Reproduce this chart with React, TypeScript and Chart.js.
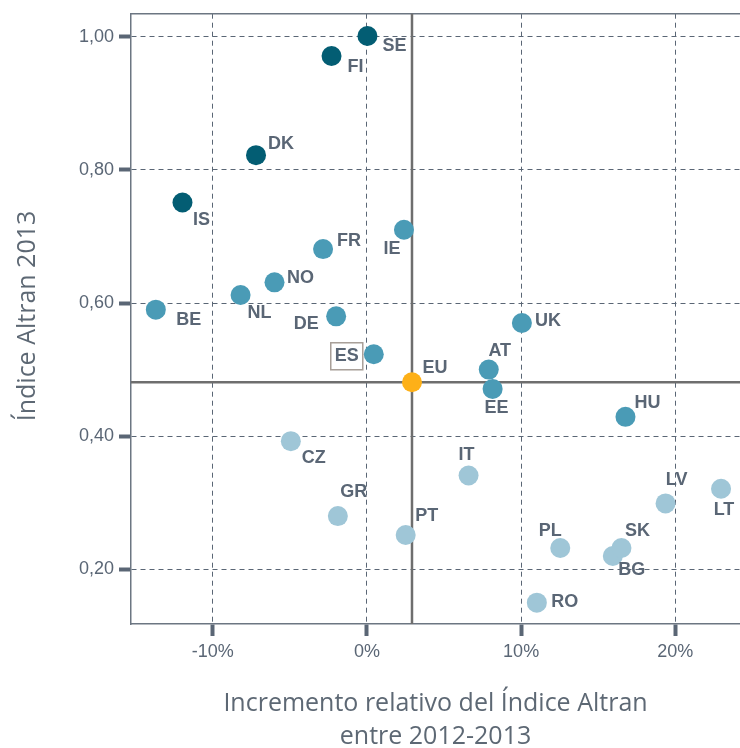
import React, { useEffect, useRef } from "react";
import { Chart, registerables } from "chart.js";

Chart.register(...registerables);

// ---- Data ----
const countries = ["SE", "FI", "DK", "IS", "FR", "IE", "NO", "NL", "BE", "DE", "ES", "UK", "AT", "EE", "HU", "CZ", "IT", "GR", "PT", "PL", "BG", "SK", "LV", "LT", "RO", "EU"];
const incremento = [0.03, -2.3, -7.2, -11.97, -2.85, 2.4, -6.0, -8.2, -13.7, -2.0, 0.44, 10.05, 7.9, 8.15, 16.77, -4.94, 6.59, -1.89, 2.51, 12.54, 15.95, 16.51, 19.37, 22.97, 11.02, 2.92];
const indice2013 = [1.001, 0.971, 0.822, 0.751, 0.681, 0.71, 0.631, 0.612, 0.59, 0.58, 0.523, 0.57, 0.5, 0.471, 0.429, 0.3925, 0.341, 0.28, 0.2515, 0.232, 0.22, 0.232, 0.299, 0.321, 0.15, 0.481];
const grupo = [0, 0, 0, 0, 1, 1, 1, 1, 1, 1, 1, 1, 1, 1, 1, 2, 2, 2, 2, 2, 2, 2, 2, 2, 2, 3];
const xTicks = [-10, 0, 10, 20];
const yTicks = [0.2, 0.4, 0.6, 0.8, 1.0];
const referencia = "EU";
const destacado = ["ES"];
const xTitle = ["Incremento relativo del Índice Altran", "entre 2012-2013"];
const yTitle = "Índice Altran 2013";

// ---- Styles ----
const groupColors = ["#035d73", "#4a9bb6", "#9fc6d7", "#fdb018"];
const textColor = "#5a6675";
const frameColor = "#6c7682";
const labelOffsets: Record<string, [number, number]> = {
  SE: [27, 10], FI: [24, 11], DK: [25, -11], IS: [19, 18], FR: [26, -8], IE: [-12, 19],
  NO: [26, -4], NL: [19, 18], BE: [33, 10], DE: [-30, 8], ES: [-27, 2], UK: [26, -2],
  AT: [11, -19], EE: [4, 19], HU: [22, -14], CZ: [23, 17], IT: [-2, -20], GR: [16, -24],
  PT: [21, -19], PL: [-10, -17], BG: [19, 14], SK: [16, -17], LV: [11, -23], LT: [3, 21],
  RO: [28, -1], EU: [23, -14],
};

const overlay = {
  id: "overlay",
  beforeDatasetsDraw(chart: any) {
    const { ctx, chartArea: a, scales } = chart;
    const xs = scales.x, ys = scales.y;
    const i = countries.indexOf(referencia);
    const px = xs.getPixelForValue(incremento[i]);
    const py = ys.getPixelForValue(indice2013[i]);
    ctx.save();
    ctx.strokeStyle = frameColor;
    ctx.lineWidth = 1.5;
    ctx.beginPath();
    ctx.moveTo(a.left, a.top);
    ctx.lineTo(a.right, a.top);
    ctx.stroke();
    ctx.strokeStyle = "#6e6e6e";
    ctx.lineWidth = 2.5;
    ctx.beginPath();
    ctx.moveTo(px, a.top);
    ctx.lineTo(px, a.bottom);
    ctx.moveTo(a.left, py);
    ctx.lineTo(a.right, py);
    ctx.stroke();
    ctx.restore();
  },
  afterDatasetsDraw(chart: any) {
    const { ctx } = chart;
    const meta = chart.getDatasetMeta(0);
    ctx.save();
    ctx.font = "bold 18px 'Liberation Sans', Arial, sans-serif";
    ctx.fillStyle = textColor;
    ctx.textAlign = "center";
    ctx.textBaseline = "middle";
    countries.forEach((c, k) => {
      const el = meta.data[k];
      const [dx, dy] = labelOffsets[c] || [20, 0];
      const lx = el.x + dx, ly = el.y + dy;
      ctx.fillStyle = textColor;
      ctx.fillText(c, lx, ly);
      if (destacado.includes(c)) {
        const w = ctx.measureText(c).width;
        ctx.strokeStyle = "#a89f98";
        ctx.lineWidth = 1.5;
        ctx.strokeRect(lx - w / 2 - 4, ly - 13.5, w + 8, 27);
      }
    });
    ctx.restore();
  },
  afterDraw(chart: any) {
    const { ctx, chartArea: a } = chart;
    ctx.save();
    ctx.fillStyle = "#5d6874";
    ctx.font = "25px 'Open Sans', sans-serif";
    ctx.textAlign = "center";
    ctx.textBaseline = "alphabetic";
    const cx = (a.left + a.right) / 2;
    ctx.fillText(xTitle[0], cx, 711);
    ctx.fillText(xTitle[1], cx, 744);
    ctx.translate(35, 316);
    ctx.rotate(-Math.PI / 2);
    ctx.fillText(yTitle, 0, 0);
    ctx.restore();
  },
};

export default function App() {
  const ref = useRef<HTMLCanvasElement | null>(null);
  useEffect(() => {
    if (!ref.current) return;
    const chart = new Chart(ref.current, {
      type: "scatter",
      data: {
        datasets: [
          {
            data: countries.map((_, k) => ({ x: incremento[k], y: indice2013[k] })),
            backgroundColor: grupo.map((g) => groupColors[g]),
            borderWidth: 0,
            pointRadius: 10,
            pointHoverRadius: 10,
            clip: false,
          },
        ],
      },
      options: {
        animation: false,
        responsive: true,
        maintainAspectRatio: false,
        events: [],
        layout: { autoPadding: false, padding: { top: 13.7, left: 0, right: 0, bottom: 0 } },
        plugins: { legend: { display: false }, tooltip: { enabled: false }, title: { display: false } },
        scales: {
          x: {
            type: "linear",
            min: -15.31,
            max: 24.2,
            afterBuildTicks: (s: any) => { s.ticks = xTicks.map((v) => ({ value: v })); },
            afterFit: (s: any) => { s.height = 124; s.paddingLeft = 0; s.paddingRight = 0; },
            ticks: {
              autoSkip: false,
              maxRotation: 0,
              padding: 5,
              color: textColor,
              font: { family: "'Liberation Sans', Arial, sans-serif", size: 18 },
              callback: (v: any) => `${v}%`,
            },
            grid: {
              color: textColor,
              lineWidth: 1,
              drawTicks: true,
              tickLength: 12,
              tickWidth: 4,
              tickColor: textColor,
              tickBorderDash: [],
            },
            border: { display: true, color: frameColor, width: 1.5, dash: [5, 4] },
          },
          y: {
            type: "linear",
            min: 0.1179,
            max: 1.0345,
            afterBuildTicks: (s: any) => { s.ticks = yTicks.map((v) => ({ value: v })); },
            afterFit: (s: any) => { s.width = 131; s.paddingTop = 0; s.paddingBottom = 0; },
            ticks: {
              autoSkip: false,
              padding: 5,
              color: textColor,
              font: { family: "'Liberation Sans', Arial, sans-serif", size: 18 },
              callback: (v: any) => Number(v).toFixed(2).replace(".", ","),
            },
            grid: {
              color: textColor,
              lineWidth: 1,
              drawTicks: true,
              tickLength: 12,
              tickWidth: 4,
              tickColor: textColor,
              tickBorderDash: [],
            },
            border: { display: true, color: frameColor, width: 1.5, dash: [5, 4] },
          },
        },
      },
      plugins: [overlay],
    });
    return () => chart.destroy();
  }, []);
  return (
    <div style={{ position: "absolute", left: 0, top: 0, width: 740, height: 748 }}>
      <canvas ref={ref} />
    </div>
  );
}
